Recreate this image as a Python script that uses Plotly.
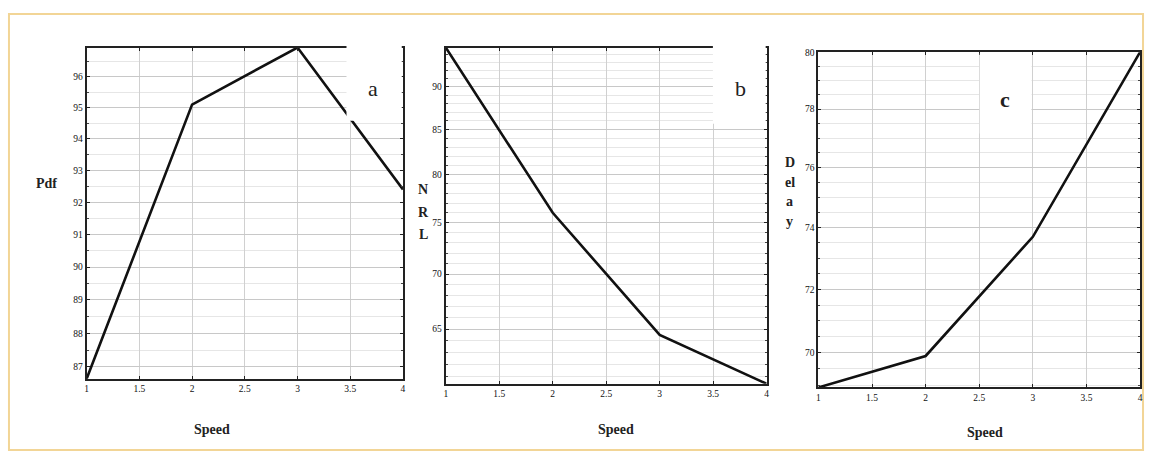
import math
import plotly.graph_objects as go

# ---- data ----
speed = [1, 2, 3, 4]
pdf_vals = [86.65, 95.1, 96.96, 92.4]
nrl_vals = [94.9, 76.0, 64.5, 60.4]
delay_vals = [68.93, 69.9, 73.7, 80.0]

x_ticks = [1, 1.5, 2, 2.5, 3, 3.5, 4]
x_labels = ["1", "1.5", "2", "2.5", "3", "3.5", "4"]
pdf_ticks = [87, 88, 89, 90, 91, 92, 93, 94, 95, 96]
nrl_ticks = [65, 70, 75, 80, 85, 90]
delay_ticks = [70, 72, 74, 76, 78, 80]
pdf_minor = [86.5 + 0.5 * i for i in range(22)]
nrl_minor = [60 + i for i in range(36)]
delay_minor = [68.5 + 0.5 * i for i in range(24)]

W, H = 1151, 454

def px(x):
    return x / W

def py(y):
    return 1 - y / H

panels = [
    dict(vals=pdf_vals, ticks=pdf_ticks, minor=pdf_minor,
         xd=[px(85), px(402.7)], yd=[py(378), py(43)]),
    dict(vals=nrl_vals, ticks=nrl_ticks, minor=nrl_minor,
         xd=[px(445.7), px(768)], yd=[py(383), py(43)]),
    dict(vals=delay_vals, ticks=delay_ticks, minor=delay_minor,
         xd=[px(820), px(1143)], yd=[py(386.7), py(47.7)]),
]

fig = go.Figure()
tickfont = dict(family="Liberation Serif", size=9.5, color="#111111")

for i, p in enumerate(panels):
    n = "" if i == 0 else str(i + 1)
    fig.add_trace(go.Scatter(
        x=speed, y=p["vals"], mode="lines",
        line=dict(color="#111111", width=2.6),
        xaxis="x" + n, yaxis="y" + n, showlegend=False, hoverinfo="skip"))
    lo, hi = min(p["vals"]), max(p["vals"])
    fig.layout["xaxis" + n] = dict(
        domain=p["xd"], anchor="y" + n, range=[1, 4],
        tickvals=x_ticks, ticktext=x_labels, tickfont=tickfont,
        showline=True, linecolor="#222222", linewidth=2, mirror="ticks",
        ticks="inside", ticklen=3, tickcolor="#222222",
        showgrid=True, gridcolor="#d0d0d0", gridwidth=1, zeroline=False)
    fig.layout["yaxis" + n] = dict(
        domain=p["yd"], anchor="x" + n, type="log",
        range=[math.log10(lo), math.log10(hi)],
        tickvals=p["ticks"], ticktext=[str(t) for t in p["ticks"]],
        tickfont=tickfont,
        showline=True, linecolor="#222222", linewidth=2, mirror="ticks",
        ticks="inside", ticklen=3, tickcolor="#222222",
        showgrid=True, gridcolor="#c8c8c8", gridwidth=1, zeroline=False,
        minor=dict(tickvals=p["minor"], showgrid=True, gridcolor="#e6e6e6",
                   gridwidth=1, ticks="inside", ticklen=2, tickcolor="#444444"))

shapes = [
    # outer frame
    dict(type="rect", xref="paper", yref="paper",
         x0=px(7), x1=px(1146), y0=py(450), y1=py(9),
         line=dict(color="#f2d596", width=2), fillcolor="rgba(0,0,0,0)", layer="below"),
    # white label boxes
    dict(type="rect", xref="paper", yref="paper",
         x0=px(346), x1=px(401.5), y0=py(117), y1=py(40),
         line=dict(width=0), fillcolor="white", layer="above"),
    dict(type="rect", xref="paper", yref="paper",
         x0=px(714), x1=px(767), y0=py(120), y1=py(40),
         line=dict(width=0), fillcolor="white", layer="above"),
    dict(type="rect", xref="paper", yref="paper",
         x0=px(982), x1=px(1034), y0=py(130), y1=py(49),
         line=dict(width=0), fillcolor="white", layer="above"),
]

title_font = dict(family="Liberation Serif", size=14, color="#222222")
label_font = dict(family="Liberation Serif", size=22, color="#222222")

def ann(text, x, y, font):
    return dict(text=text, x=px(x), y=py(y), xref="paper", yref="paper",
                showarrow=False, font=font, xanchor="center", yanchor="middle")

annotations = [
    ann("<b>Speed</b>", 211, 429, title_font),
    ann("<b>Speed</b>", 617, 429, title_font),
    ann("<b>Speed</b>", 987, 432, title_font),
    ann("<b>Pdf</b>", 45, 180, title_font),
    ann("<b>N</b>", 423, 187, title_font),
    ann("<b>R</b>", 423, 210, title_font),
    ann("<b>L</b>", 423, 232, title_font),
    ann("<b>D</b>", 791, 159, title_font),
    ann("<b>el</b>", 791, 179, title_font),
    ann("<b>a</b>", 791, 199, title_font),
    ann("<b>y</b>", 791, 219, title_font),
    ann("a", 373, 84, label_font),
    ann("b", 742, 84, label_font),
    ann("<b>c</b>", 1007, 96, label_font),
]

fig.update_layout(
    width=W, height=H, margin=dict(l=0, r=0, t=0, b=0),
    paper_bgcolor="white", plot_bgcolor="white",
    shapes=shapes, annotations=annotations, showlegend=False)

fig.write_html(
    "out.html",
    config={"displayModeBar": False},
    post_script="document.body.style.margin='0';document.body.style.overflow='hidden';")
